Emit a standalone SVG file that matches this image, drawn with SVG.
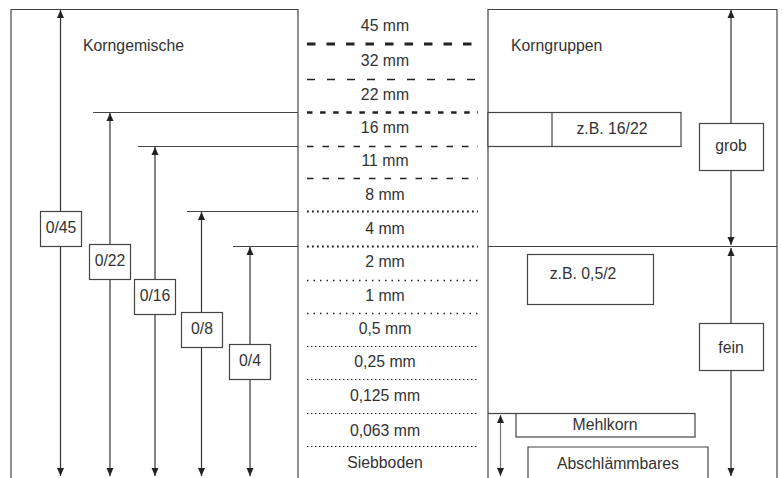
<svg xmlns="http://www.w3.org/2000/svg" width="783" height="478" viewBox="0 0 783 478">
<style>
text{font-family:"Liberation Sans",Arial,sans-serif;font-size:15.8px;fill:#333}
.c{text-anchor:middle}
.f{fill:none;stroke:#444;stroke-width:1.2}
.b{fill:#fff;stroke:#444;stroke-width:1.2}
.a{stroke:#333;stroke-width:1.2;fill:none;marker-start:url(#ah);marker-end:url(#ah)}
.ae{stroke:#333;stroke-width:1.2;fill:none;marker-end:url(#ah)}
.g{stroke:#777}
.d{fill:none;stroke:#222}
</style>
<defs>
<marker id="ah" markerUnits="userSpaceOnUse" markerWidth="8" markerHeight="8" refX="8" refY="4" orient="auto-start-reverse">
<path d="M0,0.5 L8,4 L0,7.5 z" fill="#222"/>
</marker>
</defs>
<rect width="783" height="478" fill="#fff"/>
<g id="frames">
<path class="f" d="M11,478 V9.5 H298 V478"/>
<path class="f" d="M488,478 V9.5 H777 V478"/>
<path class="f" d="M488,246.5 H777"/>
<path class="f" d="M488,413.5 H516"/>
</g>
<g id="connectors">
<path class="f" d="M93,112.5 H298 M138,146.5 H298 M187,211.5 H298 M233,246.5 H298"/>
<path class="a" d="M60.5,476 V10"/>
<path class="a" d="M110,476 V113"/>
<path class="a" d="M155,476 V147"/>
<path class="a" d="M201.5,476 V212"/>
<path class="a" d="M250,476 V247"/>
<path class="a" d="M731,10 V245"/>
<path class="a" d="M731,248 V476"/>
<path class="a g" d="M500.5,415 V476"/>
</g>
<g id="sieves">
<line class="d" x1="307" y1="44" x2="478" y2="44" stroke-width="3" stroke-dasharray="8.5 11"/>
<line class="d" x1="307" y1="79.5" x2="478" y2="79.5" stroke-width="1.6" stroke-dasharray="8 12"/>
<line class="d" x1="307" y1="112.5" x2="478" y2="112.5" stroke-width="2.6" stroke-dasharray="5.5 7.6"/>
<line class="d" x1="307" y1="146.5" x2="478" y2="146.5" stroke-width="1.6" stroke-dasharray="6.5 9"/>
<line class="d" x1="307" y1="178.5" x2="478" y2="178.5" stroke-width="1.6" stroke-dasharray="6.5 9"/>
<line class="d" x1="307" y1="211.5" x2="478" y2="211.5" stroke-width="2" stroke-dasharray="1.8 3.2"/>
<line class="d" x1="307" y1="246.5" x2="478" y2="246.5" stroke-width="2" stroke-dasharray="1.8 3.2"/>
<line class="d" x1="307" y1="280.5" x2="478" y2="280.5" stroke="#666" stroke-width="1.5" stroke-dasharray="1.5 5"/>
<line class="d" x1="307" y1="313.5" x2="478" y2="313.5" stroke="#666" stroke-width="1.5" stroke-dasharray="1.5 5"/>
<line class="d" x1="307" y1="346.5" x2="478" y2="346.5" stroke="#555" stroke-width="1" stroke-dasharray="1.5 2.5"/>
<line class="d" x1="307" y1="379.5" x2="478" y2="379.5" stroke="#555" stroke-width="1" stroke-dasharray="1.5 2.5"/>
<line class="d" x1="307" y1="413.5" x2="478" y2="413.5" stroke="#555" stroke-width="1" stroke-dasharray="1.5 2.5"/>
<line class="d" x1="307" y1="446.5" x2="478" y2="446.5" stroke="#555" stroke-width="1" stroke-dasharray="1.5 2.5"/>
</g>
<g id="sieve-labels">
<text class="c" x="385" y="30.5">45 mm</text>
<text class="c" x="385" y="66">32 mm</text>
<text class="c" x="385" y="99.5">22 mm</text>
<text class="c" x="385" y="133">16 mm</text>
<text class="c" x="385" y="166">11 mm</text>
<text class="c" x="385" y="199.5">8 mm</text>
<text class="c" x="385" y="233.5">4 mm</text>
<text class="c" x="385" y="267">2 mm</text>
<text class="c" x="385" y="301">1 mm</text>
<text class="c" x="385" y="333.5">0,5 mm</text>
<text class="c" x="385" y="367">0,25 mm</text>
<text class="c" x="385" y="400.5">0,125 mm</text>
<text class="c" x="385" y="435.5">0,063 mm</text>
<text class="c" x="385" y="467.5">Siebboden</text>
</g>
<g id="korngemische"><text x="83" y="50.5">Korngemische</text></g>
<g id="korngruppen"><text x="511" y="50.5">Korngruppen</text></g>
<g id="n045"><rect class="b" x="40.5" y="211.5" width="41" height="35"/><text class="c" x="61" y="232.5">0/45</text></g>
<g id="n022"><rect class="b" x="89.5" y="244.5" width="41" height="35"/><text class="c" x="110" y="265.5">0/22</text></g>
<g id="n016"><rect class="b" x="134.5" y="279.5" width="41" height="35"/><text class="c" x="155" y="300.5">0/16</text></g>
<g id="n08"><rect class="b" x="181.5" y="312.5" width="41" height="35"/><text class="c" x="202" y="333.5">0/8</text></g>
<g id="n04"><rect class="b" x="229.5" y="344.5" width="41" height="35"/><text class="c" x="250" y="365.5">0/4</text></g>
<g id="zb1622"><rect class="b" x="488" y="112.5" width="193" height="34"/><line class="f" x1="552" y1="112.5" x2="552" y2="146.5"/><text class="c" x="612" y="133.5">z.B. 16/22</text></g>
<g id="grob"><rect class="b" x="699.5" y="123.5" width="64" height="47"/><text class="c" x="731" y="150.5">grob</text></g>
<g id="zb052"><rect class="b" x="527.5" y="254.5" width="126" height="50"/><text class="c" x="583" y="278.5">z.B. 0,5/2</text></g>
<g id="fein"><rect class="b" x="699.5" y="323.5" width="64" height="47"/><text class="c" x="731" y="352.5">fein</text></g>
<g id="mehlkorn"><rect class="b" x="516" y="413.5" width="179" height="23.5"/><text class="c" x="605" y="429.5">Mehlkorn</text></g>
<g id="abschlaemmbares"><path class="f" d="M528,478 V447 H708 V478"/><text class="c" x="618" y="468.5">Abschlämmbares</text></g>
</svg>
